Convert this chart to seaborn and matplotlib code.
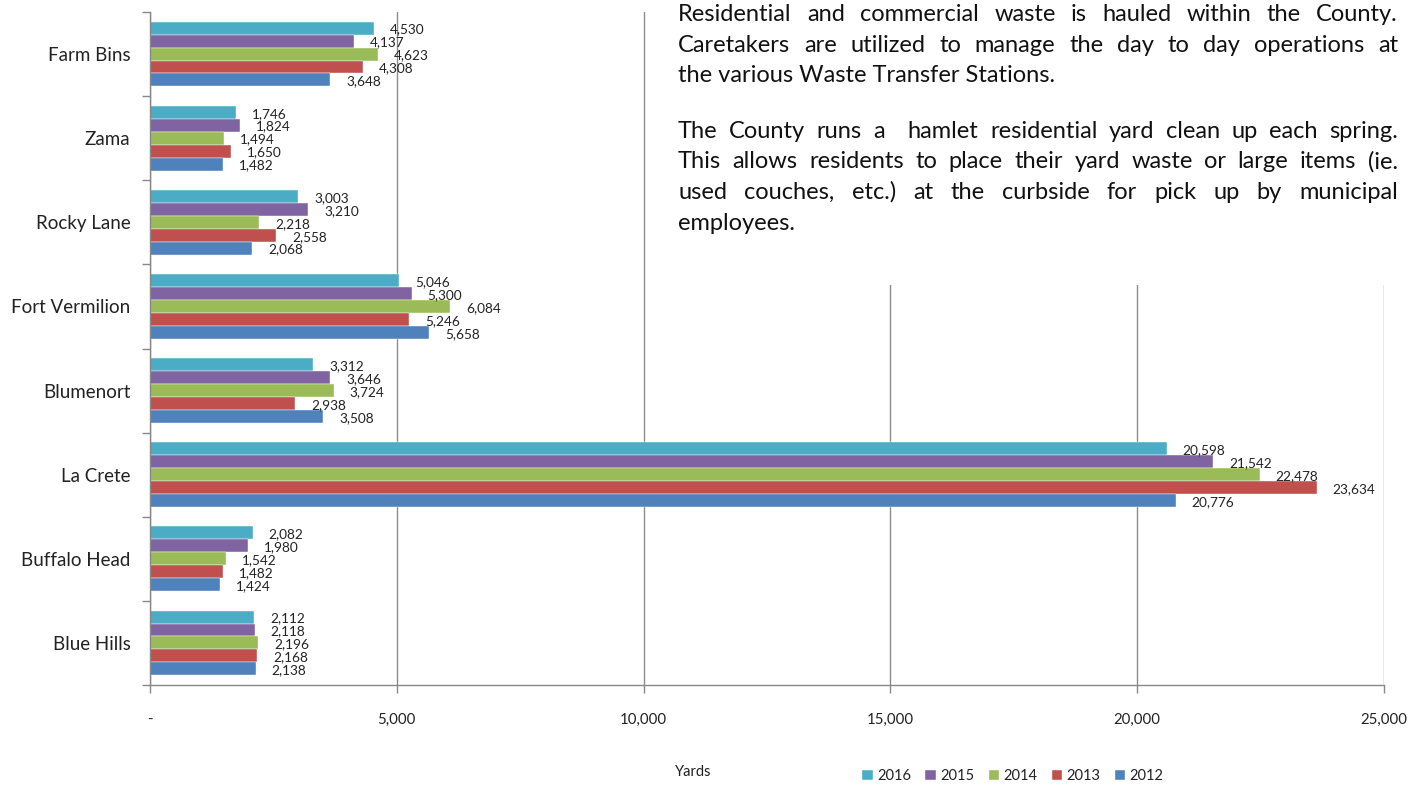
import numpy as np
import pandas as pd
import matplotlib
matplotlib.use("Agg")
import matplotlib.pyplot as plt
from matplotlib.patches import Rectangle
from matplotlib.ticker import FuncFormatter, FixedLocator
import seaborn as sns

# Waste volumes (yards) hauled per transfer station and year
stations = ["Farm Bins", "Zama", "Rocky Lane", "Fort Vermilion",
            "Blumenort", "La Crete", "Buffalo Head", "Blue Hills"]
years = ["2016", "2015", "2014", "2013", "2012"]
y2016 = [4530, 1746, 3003, 5046, 3312, 20598, 2082, 2112]
y2015 = [4137, 1824, 3210, 5300, 3646, 21542, 1980, 2118]
y2014 = [4623, 1494, 2218, 6084, 3724, 22478, 1542, 2196]
y2013 = [4308, 1650, 2558, 5246, 2938, 23634, 1482, 2168]
y2012 = [3648, 1482, 2068, 5658, 3508, 20776, 1424, 2138]
x_ticks = [0, 5000, 10000, 15000, 20000, 25000]

colors = ["#4BACC6", "#8064A2", "#9BBB59", "#C0504D", "#4F81BD"]

paragraphs = [
    ["Residential and commercial waste is hauled within the County.",
     "Caretakers are utilized to manage the day to day operations at",
     "the various Waste Transfer Stations."],
    ["The County runs a  hamlet residential yard clean up each spring.",
     "This allows residents to place their yard waste or large items (ie.",
     "used couches, etc.) at the curbside for pick up by municipal",
     "employees."],
]

series = dict(zip(years, [y2016, y2015, y2014, y2013, y2012]))
df = pd.DataFrame(
    [(s, yr, series[yr][i]) for yr in years for i, s in enumerate(stations)],
    columns=["Station", "Year", "Yards"],
)

sns.set_theme(style="white")
plt.rcParams["font.family"] = ["Lato", "DejaVu Sans"]

W, H = 1427, 785
fig = plt.figure(figsize=(W / 100, H / 100), dpi=100)
ax = fig.add_axes([150 / W, 1 - 685 / H, 1234 / W, 673 / H])

sns.barplot(data=df, y="Station", x="Yards", hue="Year", order=stations,
            hue_order=years, palette=colors, orient="h", width=0.77,
            saturation=1, edgecolor="white", linewidth=0.3, ax=ax,
            errorbar=None, legend=True)

# value labels to the right of each bar
for cont in ax.containers:
    for bar in cont:
        v = bar.get_width()
        ax.annotate(f"{v:,.0f}", (v, bar.get_y() + bar.get_height() / 2),
                    xytext=(11.5, -1), textcoords="offset points",
                    ha="left", va="center", fontsize=9.8, color="#222222")

ax.set_xlim(0, 25000)
ax.set_ylim(len(stations) - 0.5, -0.5)
ax.xaxis.set_major_locator(FixedLocator(x_ticks))
ax.xaxis.set_major_formatter(FuncFormatter(lambda v, p: "-" if v == 0 else f"{v:,.0f}"))
ax.tick_params(axis="x", which="major", length=6, width=1, color="#888888",
               pad=14, labelsize=10.8, labelcolor="#222222", bottom=True)
ax.xaxis.grid(True, color="#8c8c8c", linewidth=1)
ax.set_axisbelow(True)

ax.set_yticks(range(len(stations)))
ax.set_yticklabels(stations)
ax.yaxis.set_minor_locator(FixedLocator(np.arange(-0.5, len(stations), 1.0)))
ax.tick_params(axis="y", which="major", length=0, pad=14, labelsize=13.5,
               labelcolor="#222222")
ax.tick_params(axis="y", which="minor", length=6, width=1, color="#888888", left=True)

for side in ["top", "right"]:
    ax.spines[side].set_visible(False)
for side in ["left", "bottom"]:
    ax.spines[side].set_color("#888888")
    ax.spines[side].set_linewidth(1)

ax.set_ylabel("")
ax.set_xlabel("Yards", fontsize=10.5, color="#222222")
ax.xaxis.set_label_coords((693 - 150) / 1234, -(772 - 685) / 673)
ax.xaxis.label.set_va("center")

handles, labels = ax.get_legend_handles_labels()
ax.legend(handles, labels, ncol=5, frameon=False, fontsize=10.5,
          handlelength=0.7, handleheight=0.7, handletextpad=0.3,
          columnspacing=1.0, loc="center", bbox_to_anchor=(1013 / W, 1 - 776 / H),
          bbox_transform=fig.transFigure, labelcolor="#222222")

# text panel on a white background
fig.add_artist(Rectangle((655 / W, 1 - 285 / H), (W - 655) / W, 285 / H,
                         transform=fig.transFigure, facecolor="white",
                         edgecolor="none", zorder=5))

text_kw = dict(fontsize=17, color="#111111", va="baseline", ha="left", zorder=6)
left_px, right_px = 678, 1398
baselines = [[21, 51.5, 82], [138, 168.5, 199, 229.5]]

renderer = fig.canvas.get_renderer()
for para, ys in zip(paragraphs, baselines):
    for li, (line, ypx) in enumerate(zip(para, ys)):
        yf = 1 - ypx / H
        last = li == len(para) - 1
        if last:
            fig.text(left_px / W, yf, line, **text_kw)
            continue
        words = line.split(" ")
        objs = [fig.text(0, yf, w, **text_kw) for w in words]
        widths = [o.get_window_extent(renderer).width if w else 0.0
                  for o, w in zip(objs, words)]
        gap = (right_px - left_px - sum(widths)) / (len(words) - 1)
        x = left_px
        for o, wd in zip(objs, widths):
            o.set_x(x / W)
            x += wd + gap

fig.savefig("out.png", dpi=100, facecolor="white")
